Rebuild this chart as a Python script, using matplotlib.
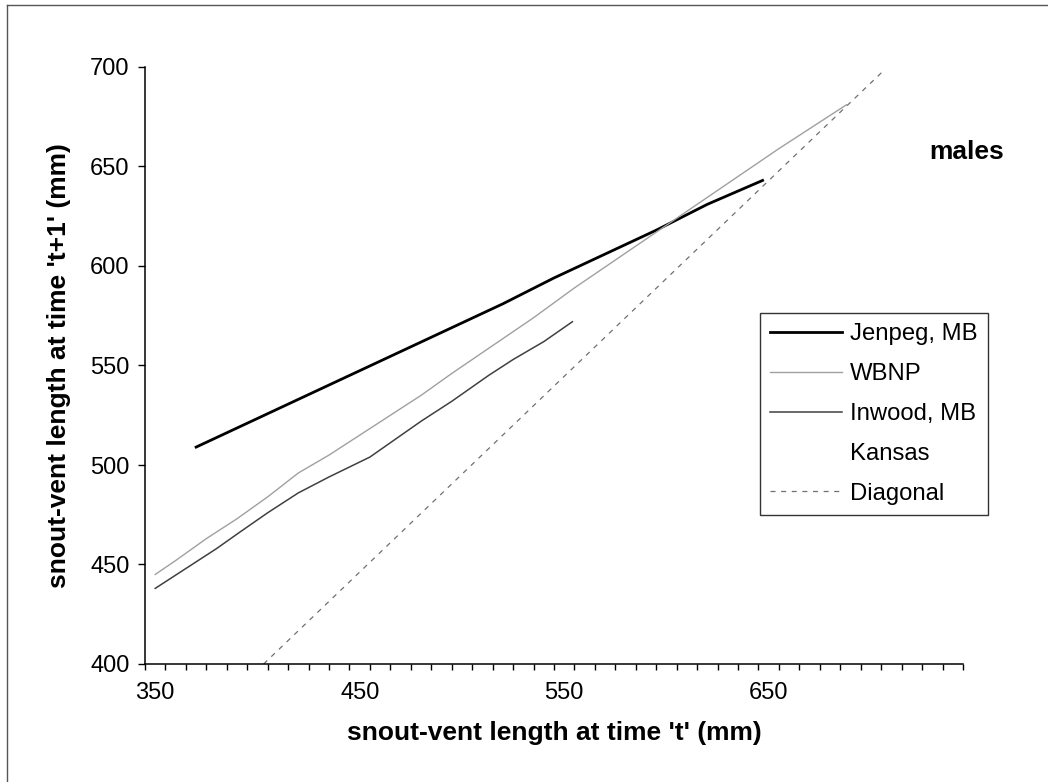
import matplotlib
matplotlib.use("Agg")
import matplotlib.pyplot as plt
from matplotlib.lines import Line2D
from matplotlib.ticker import FixedLocator, NullFormatter

plt.rcParams['font.family'] = ['Liberation Sans', 'DejaVu Sans']

# ---- data ----
jenpeg_x = [370, 395, 420, 445, 470, 495, 520, 545, 570, 595, 620, 647]
jenpeg_y = [509, 521, 533, 545, 557, 569, 581, 594, 606, 618, 631, 643]

wbnp_x = [350, 360, 375, 390, 405, 420, 435, 450, 465, 480, 495, 515, 535,
          555, 575, 595, 615, 635, 655, 688]
wbnp_y = [445, 452, 463, 473, 484, 496, 505, 515, 525, 535, 546, 560, 574,
          589, 603, 617, 631, 645, 659, 681]

inwood_x = [350, 365, 380, 391, 405, 420, 435, 455, 480, 495, 513, 525, 540, 554]
inwood_y = [438, 448, 458, 466, 476, 486, 494, 504, 522, 532, 545, 553, 562, 572]

kansas_x = []
kansas_y = []

diag_x = [403, 706]
diag_y = [400, 698]

x_tick_marks = list(range(345, 746, 10))
x_labels = [350, 450, 550, 650]
y_ticks = [400, 450, 500, 550, 600, 650, 700]

# ---- figure ----
fig = plt.figure(figsize=(10.48, 7.82), dpi=100)
ax = fig.add_axes([145/1048, 1-664/782, (963-145)/1048, (664-67)/782])

ax.plot(jenpeg_x, jenpeg_y, color='black', lw=2.0, label='Jenpeg, MB')
ax.plot(wbnp_x, wbnp_y, color='#a0a0a0', lw=1.0, label='WBNP')
ax.plot(inwood_x, inwood_y, color='#404040', lw=1.1, label='Inwood, MB')
ax.plot(kansas_x, kansas_y, color='white', lw=1.0, label='Kansas')
ax.plot(diag_x, diag_y, color='#707070', lw=0.9, linestyle=(0, (4, 4.5)),
        label='Diagonal')

ax.set_xlim(345, 745)
ax.set_ylim(400, 700)

# category-style axis: tick marks between categories, labels at centres
ax.xaxis.set_major_locator(FixedLocator(x_labels))
ax.xaxis.set_minor_locator(FixedLocator(x_tick_marks))
ax.xaxis.set_minor_formatter(NullFormatter())
ax.yaxis.set_major_locator(FixedLocator(y_ticks))

for s in ['top', 'right']:
    ax.spines[s].set_visible(False)
for s in ['left', 'bottom']:
    ax.spines[s].set_linewidth(1.1)
    ax.spines[s].set_color('black')

ax.tick_params(axis='x', which='major', length=0, pad=13, labelsize=17)
ax.tick_params(axis='x', which='minor', direction='out', length=4, width=1.0)
ax.tick_params(axis='y', direction='out', length=5, width=1.0, pad=6,
               labelsize=17)

ax.set_xlabel("snout-vent length at time 't' (mm)", fontsize=19,
              fontweight='bold', labelpad=12)
ax.set_ylabel("snout-vent length at time 't+1' (mm)", fontsize=19,
              fontweight='bold', labelpad=14)

ax.text(967/1048, 1-152/782, 'males', transform=fig.transFigure,
        fontsize=19, fontweight='bold', ha='center', va='center')

leg = ax.legend(loc='upper left', bbox_to_anchor=(760/1048, 1-313/782),
                bbox_transform=fig.transFigure, fontsize=17.2, frameon=True,
                fancybox=False, shadow=False, handlelength=3.0,
                handletextpad=0.35, labelspacing=0.75, borderpad=0.42,
                borderaxespad=0)
leg.get_frame().set_edgecolor('black')
leg.get_frame().set_linewidth(1.0)

# outer chart border (left and top edges visible in reference)
fig.add_artist(Line2D([7/1048, 7/1048], [0, 1-5/782], color='#555555',
                      lw=1.0, transform=fig.transFigure))
fig.add_artist(Line2D([7/1048, 1], [1-5/782, 1-5/782], color='#555555',
                      lw=1.0, transform=fig.transFigure))

fig.savefig('out.png', dpi=100)
